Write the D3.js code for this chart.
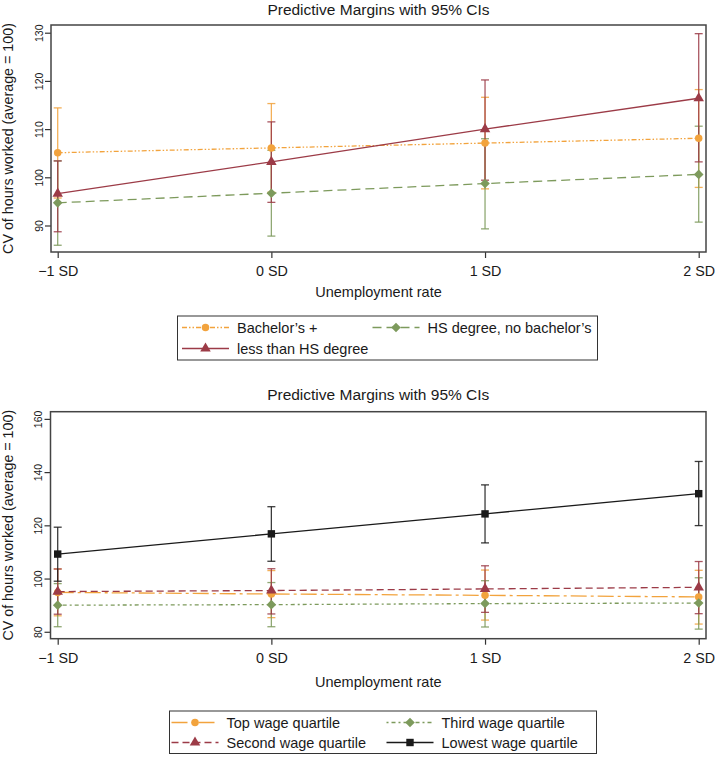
<!DOCTYPE html>
<html><head><meta charset="utf-8">
<script src="https://cdn.jsdelivr.net/npm/d3@7"></script>
<style>
body{margin:0;background:#fff;}
text{font-family:"Liberation Sans",Arial,Helvetica,sans-serif;fill:#1a1a1a;}
</style></head>
<body><svg id="c" width="716" height="758"></svg>
<script>
// ---------- data ----------
const xCats = ["\u22121 SD", "0 SD", "1 SD", "2 SD"];
const chartTitle = "Predictive Margins with 95% CIs";
const xTitle = "Unemployment rate";
const yTitle = "CV of hours worked (average = 100)";

// Panel 1: education
const topTicks = [90, 100, 110, 120, 130];
const bachelorsMean = [105.1, 106.1, 107.1, 108.1];
const bachelorsLo   = [95.7, 96.9, 97.6, 97.9];
const bachelorsHi   = [114.4, 115.3, 116.6, 118.2];
const hsMean = [94.7, 96.7, 98.7, 100.6];
const hsLo   = [85.9, 87.8, 89.3, 90.7];
const hsHi   = [103.4, 105.6, 108.0, 110.6];
const lessHsMean = [96.6, 103.2, 110.0, 116.4];
const lessHsLo   = [88.7, 94.8, 99.4, 103.2];
const lessHsHi   = [103.4, 111.5, 120.2, 129.8];

// Panel 2: wage quartiles
const bottomTicks = [80, 100, 120, 140, 160];
const topWageMean = [94.8, 94.2, 93.7, 93.1];
const topWageLo   = [86.0, 85.3, 84.4, 82.9];
const topWageHi   = [103.6, 103.0, 103.2, 103.1];
const thirdMean = [90.0, 90.2, 90.6, 90.8];
const thirdLo   = [81.9, 81.9, 81.8, 81.0];
const thirdHi   = [98.1, 98.5, 99.2, 100.3];
const secondMean = [95.1, 95.5, 96.1, 96.7];
const secondLo   = [86.6, 86.7, 87.3, 86.8];
const secondHi   = [103.6, 103.7, 104.8, 106.4];
const lowestMean = [109.2, 116.8, 124.3, 131.9];
const lowestLo   = [99.0, 106.5, 113.4, 119.9];
const lowestHi   = [119.3, 127.0, 135.2, 144.0];

// ---------- styling ----------
const C_OR = "#f2a33d", C_RD = "#9c3b47", C_GR = "#7d9a5c", C_BK = "#1a1a1a";
const svg = d3.select("#c");

const diamond = { draw(ctx, size){ const h=Math.sqrt(size/2)*1.1;
  ctx.moveTo(0,-h); ctx.lineTo(h,0); ctx.lineTo(0,h); ctx.lineTo(-h,0); ctx.closePath(); } };

function drawMarker(g, type, color, cx, cy){
  let sym, size;
  if (type === "circle"){ sym = d3.symbolCircle; size = 44; }
  else if (type === "triangle"){ sym = d3.symbolTriangle; size = 48; }
  else if (type === "diamond"){ sym = diamond; size = 38; }
  else { sym = d3.symbolSquare; size = 55; }
  g.append("path").attr("d", d3.symbol(sym, size)())
    .attr("transform", `translate(${cx},${cy})`).attr("fill", color);
}

function panel(cfg){
  const x = d3.scalePoint().domain(xCats).range([cfg.x0, cfg.x1]);
  const y = d3.scaleLinear().domain(cfg.yDomain).range([cfg.bottom, cfg.top]);
  const g = svg.append("g");

  // title
  g.append("text").attr("x", (cfg.left + cfg.right)/2).attr("y", cfg.titleY)
    .attr("text-anchor","middle").style("font-size","15.5px").text(chartTitle);

  // x axis
  const xa = g.append("g").attr("transform", `translate(0,${cfg.bottom})`)
    .call(d3.axisBottom(x).tickSize(6).tickPadding(5));
  xa.select(".domain").remove();
  xa.selectAll(".tick line").attr("stroke","#333").attr("stroke-width",1.2);
  xa.selectAll(".tick text").style("font-size","14.3px").attr("fill","#1a1a1a").attr("dy","0.92em");

  // y axis
  const ya = g.append("g").attr("transform", `translate(${cfg.left},0)`)
    .call(d3.axisLeft(y).tickValues(cfg.ticks).tickSize(6));
  ya.select(".domain").remove();
  ya.selectAll(".tick line").attr("stroke","#333").attr("stroke-width",1.2);
  ya.selectAll(".tick text").attr("x",null).attr("dy",null)
    .attr("transform","translate(-8.5,0) rotate(-90)")
    .attr("text-anchor","middle").style("font-size","10.5px").attr("fill","#333");

  // axis titles
  g.append("text").attr("x", (cfg.left + cfg.right)/2).attr("y", cfg.xTitleY)
    .attr("text-anchor","middle").style("font-size","14.5px").text(xTitle);
  g.append("text").attr("transform", `translate(12.5,${(cfg.top+cfg.bottom)/2}) rotate(-90)`)
    .attr("text-anchor","middle").style("font-size","14.3px").text(yTitle);

  // series
  const line = d3.line().x((d,i)=>x(xCats[i])).y(d=>y(d));
  cfg.series.forEach(s=>{
    s.lo.forEach((lo,i)=>{
      const px = x(xCats[i]), hi = s.hi[i];
      g.append("line").attr("x1",px).attr("x2",px).attr("y1",y(lo)).attr("y2",y(hi))
        .attr("stroke",s.color).attr("stroke-width",1.3).attr("opacity",0.85);
      [lo,hi].forEach(v=>g.append("line").attr("x1",px-4).attr("x2",px+4)
        .attr("y1",y(v)).attr("y2",y(v)).attr("stroke",s.color).attr("stroke-width",1.3).attr("opacity",0.85));
    });
  });
  cfg.series.forEach(s=>{
    g.append("path").attr("d", line(s.mean)).attr("fill","none")
      .attr("stroke",s.color).attr("stroke-width",1.3).attr("stroke-dasharray",s.dash);
    s.mean.forEach((v,i)=>drawMarker(g, s.marker, s.color, x(xCats[i]), y(v)));
  });

  // frame
  g.append("rect").attr("x",cfg.left).attr("y",cfg.top)
    .attr("width",cfg.right-cfg.left).attr("height",cfg.bottom-cfg.top)
    .attr("fill","none").attr("stroke","#444").attr("stroke-width",1.5);

  // legend
  const L = cfg.legend;
  g.append("rect").attr("x",L.x).attr("y",L.y).attr("width",L.w).attr("height",L.h)
    .attr("fill","none").attr("stroke","#333").attr("stroke-width",1);
  cfg.series.forEach((s,k)=>{
    const col = k % 2, row = Math.floor(k/2);
    const lx = L.cols[col], ly = L.rows[row];
    g.append("line").attr("x1",lx).attr("x2",lx+47).attr("y1",ly).attr("y2",ly)
      .attr("stroke",s.color).attr("stroke-width",1.3).attr("stroke-dasharray",s.dash);
    drawMarker(g, s.marker, s.color, lx+23.5, ly);
    g.append("text").attr("x",lx+55).attr("y",ly+5).style("font-size","14.5px").text(s.name);
  });
}

panel({
  x0: 57.7, x1: 698.7, left: 51, right: 706, top: 25, bottom: 252,
  yDomain: [84.5, 131.6], ticks: topTicks, titleY: 15, xTitleY: 297,
  series: [
    {name:"Bachelor\u2019s +", mean:bachelorsMean, lo:bachelorsLo, hi:bachelorsHi, color:C_OR, marker:"circle", dash:"5,2,1.5,2,1.5,2"},
    {name:"HS degree, no bachelor\u2019s", mean:hsMean, lo:hsLo, hi:hsHi, color:C_GR, marker:"diamond", dash:"9,5"},
    {name:"less than HS degree", mean:lessHsMean, lo:lessHsLo, hi:lessHsHi, color:C_RD, marker:"triangle", dash:null}
  ],
  legend: {x:177.5, y:316, w:420, h:44, cols:[182, 372.5], rows:[327.5, 348.5]}
});

panel({
  x0: 57.7, x1: 698.7, left: 50.5, right: 706, top: 411.7, bottom: 638.7,
  yDomain: [77.4, 162.7], ticks: bottomTicks, titleY: 400, xTitleY: 687,
  series: [
    {name:"Top wage quartile", mean:topWageMean, lo:topWageLo, hi:topWageHi, color:C_OR, marker:"circle", dash:"16,4,3,4"},
    {name:"Third wage quartile", mean:thirdMean, lo:thirdLo, hi:thirdHi, color:C_GR, marker:"diamond", dash:"2,3,4,3"},
    {name:"Second wage quartile", mean:secondMean, lo:secondLo, hi:secondHi, color:C_RD, marker:"triangle", dash:"7,4"},
    {name:"Lowest wage quartile", mean:lowestMean, lo:lowestLo, hi:lowestHi, color:C_BK, marker:"square", dash:null}
  ],
  legend: {x:169.5, y:711, w:427, h:42.5, cols:[171.5, 386.5], rows:[722.5, 742.5]}
});
</script></body></html>
